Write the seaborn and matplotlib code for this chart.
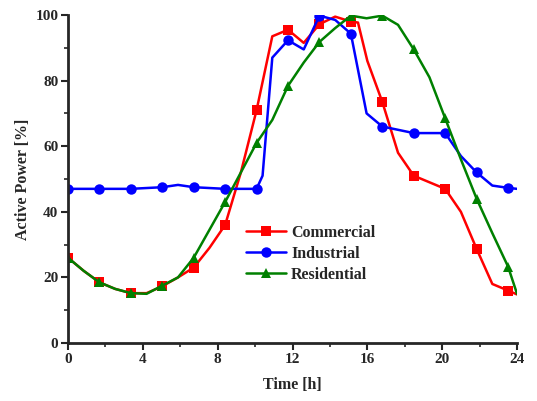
import matplotlib
matplotlib.use("Agg")
import matplotlib.pyplot as plt
import seaborn as sns
import pandas as pd
from matplotlib.ticker import MultipleLocator

# ---- data ----
marker_t = [0, 1.68, 3.36, 5.04, 6.72, 8.4, 10.08, 11.76, 13.44, 15.12,
            16.8, 18.48, 20.16, 21.84, 23.52]

t_com = [0, 0.84, 1.68, 2.52, 3.36, 4.2, 5.04, 5.88, 6.72, 7.56, 8.4, 9.24,
         10.08, 10.92, 11.76, 12.6, 13.44, 14.28, 15.12, 15.5, 16.0, 16.8,
         17.64, 18.48, 19.32, 20.16, 21.0, 21.84, 22.68, 23.52, 24]
v_com = [26, 22, 18.5, 16.5, 15.2, 15.2, 17.3, 20, 23, 29, 36, 52,
         71, 93.5, 95.5, 91.5, 97.2, 99.5, 98, 97.7, 86, 73.5,
         58, 51, 49, 47, 40, 28.7, 18, 16, 14.8]

t_ind = [0, 1.68, 3.36, 5.04, 5.88, 6.72, 8.4, 10.08, 10.4, 10.92, 11.76,
         12.6, 13.44, 14.28, 15.12, 15.96, 16.8, 18.48, 20.16, 21.0, 21.84,
         22.68, 23.52, 24]
v_ind = [47, 47, 47, 47.5, 48.2, 47.5, 47, 47, 51, 87, 92.3,
         89.5, 99.8, 98.5, 94.3, 70, 66, 64, 64, 57, 52,
         48, 47.3, 47]

t_res = [0, 0.84, 1.68, 2.52, 3.36, 4.2, 5.04, 5.88, 6.72, 7.56, 8.4, 9.24,
         10.08, 10.92, 11.76, 12.6, 13.44, 14.28, 15.12, 15.96, 16.8, 17.64,
         18.48, 19.32, 20.16, 21.0, 21.84, 22.68, 23.52, 24]
v_res = [26, 22, 18.5, 16.5, 15.2, 15.0, 17.5, 20, 26, 34.5, 43, 52,
         61, 68, 78.4, 85.5, 91.8, 96, 99.8, 99, 99.8, 97,
         89.5, 81, 68.5, 56, 44, 33.5, 23.3, 15]

series = [
    ("Commercial", t_com, v_com, "#ff0000", "s"),
    ("Industrial", t_ind, v_ind, "#0000ff", "o"),
    ("Residential", t_res, v_res, "#008000", "^"),
]

sns.set_style("ticks")
plt.rcParams["font.family"] = ["Liberation Serif", "DejaVu Serif"]
plt.rcParams["font.weight"] = "bold"

fig = plt.figure(figsize=(5.37, 4.01), dpi=100)
ax = fig.add_axes([0.1266, 0.1446, 0.8362, 0.818])

for name, t, v, col, mk in series:
    df = pd.DataFrame({"t": t, "v": v})
    idx = [i for i, x in enumerate(t) if x in marker_t]
    sns.lineplot(data=df, x="t", y="v", ax=ax, color=col, marker=mk,
                 markersize=7.5, markeredgewidth=0, linewidth=1.8,
                 markevery=idx, label=name, sort=False, estimator=None,
                 clip_on=True)

ax.set_xlim(0, 24)
ax.set_ylim(0, 100)
ax.xaxis.set_major_locator(MultipleLocator(4))
ax.xaxis.set_minor_locator(MultipleLocator(2))
ax.yaxis.set_major_locator(MultipleLocator(20))
ax.yaxis.set_minor_locator(MultipleLocator(10))
ax.tick_params(axis="both", which="major", direction="out", length=5,
               width=1.5, labelsize=11, pad=2)
ax.tick_params(axis="both", which="minor", direction="out", length=3,
               width=1.2)
for lab in ax.get_xticklabels() + ax.get_yticklabels():
    lab.set_fontweight("bold")

sns.despine(ax=ax)
for s in ("left", "bottom"):
    ax.spines[s].set_linewidth(2)

ax.set_xlabel("Time [h]", fontsize=11.5, fontweight="bold", labelpad=8)
ax.set_ylabel("Active Power [%]", fontsize=11.5, fontweight="bold", labelpad=3)

leg = ax.legend(loc="upper left", bbox_to_anchor=(0.397, 0.36), frameon=False,
                borderpad=0, borderaxespad=0, handlelength=2.5,
                handletextpad=0.3, labelspacing=0.3,
                prop={"family": "Liberation Serif", "weight": "bold", "size": 11.5})

fig.savefig("out.png", dpi=100)
